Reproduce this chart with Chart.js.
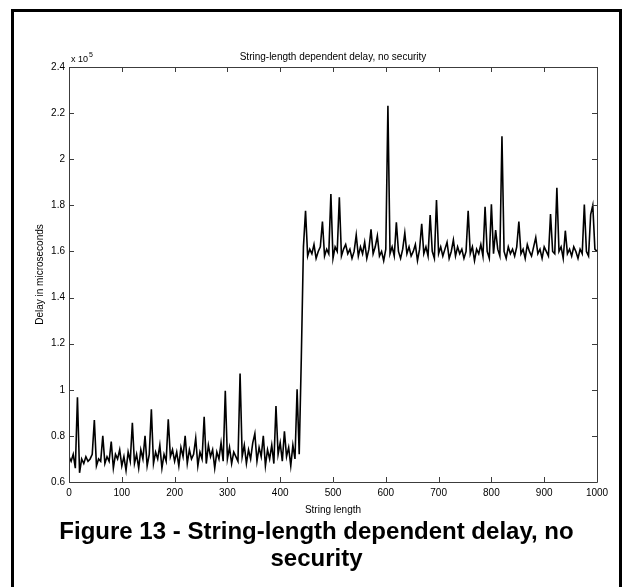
<!DOCTYPE html>
<html>
<head>
<meta charset="utf-8">
<script src="https://cdn.jsdelivr.net/npm/chart.js@4.4.0/dist/chart.umd.min.js"></script>
<style>
  html, body { margin: 0; padding: 0; background: #fff; overflow: hidden; width: 624px; height: 587px; }
  #frame { position: absolute; left: 11px; top: 9px; width: 605px; height: 600px; border: 3px solid #000; }
  #wrap { position: absolute; left: 0; top: 0; width: 624px; height: 587px; }
  #caption {
    position: absolute; left: 11px; width: 611px; top: 517px;
    text-align: center; font: bold 24px "Liberation Sans", Arial, sans-serif; line-height: 27px; color: #000;
  }
</style>
</head>
<body>
<div id="frame"></div>
<div id="wrap"><canvas id="delayChart" width="624" height="587"></canvas></div>
<div id="caption">Figure 13 - String-length dependent delay, no<br>security</div>
<script>
// DATA (one sample every 4 characters)
const STEP = 4;
const delay = [
  // 0 - 436
  0.71, 0.69, 0.72, 0.66, 0.967, 0.64, 0.70, 0.68, 0.71, 0.69,
  0.70, 0.72, 0.869, 0.67, 0.70, 0.69, 0.80, 0.68, 0.71, 0.69,
  0.775, 0.66, 0.72, 0.70, 0.74, 0.67, 0.71, 0.65, 0.73, 0.69,
  0.857, 0.68, 0.72, 0.66, 0.74, 0.70, 0.80, 0.67, 0.72, 0.915,
  0.68, 0.73, 0.70, 0.76, 0.66, 0.72, 0.69, 0.872, 0.71, 0.74,
  0.69, 0.73, 0.67, 0.75, 0.71, 0.80, 0.68, 0.74, 0.70, 0.72,
  0.79, 0.67, 0.73, 0.70, 0.883, 0.68, 0.76, 0.71, 0.74, 0.66,
  0.73, 0.70, 0.77, 0.69, 0.996, 0.70, 0.75, 0.68, 0.73, 0.71,
  0.69, 1.071, 0.71, 0.76, 0.68, 0.74, 0.70, 0.77, 0.81, 0.69,
  0.75, 0.71, 0.80, 0.67, 0.74, 0.70, 0.76, 0.68, 0.93, 0.72,
  0.77, 0.69, 0.82, 0.71, 0.75, 0.67, 0.76, 0.70, 1.002, 0.72,
  // step at 440
  1.14,
  // 444 - 1000
  1.62, 1.776, 1.58, 1.61, 1.59, 1.63, 1.57, 1.60, 1.62, 1.73,
  1.58, 1.61, 1.59, 1.849, 1.57, 1.62, 1.60, 1.835, 1.58, 1.61,
  1.63, 1.59, 1.61, 1.57, 1.60, 1.671, 1.58, 1.62, 1.59, 1.64,
  1.57, 1.61, 1.696, 1.59, 1.62, 1.667, 1.58, 1.60, 1.56, 1.61,
  2.232, 1.59, 1.62, 1.58, 1.726, 1.60, 1.57, 1.61, 1.68, 1.59,
  1.62, 1.58, 1.60, 1.63, 1.56, 1.61, 1.72, 1.59, 1.62, 1.58,
  1.758, 1.60, 1.57, 1.823, 1.59, 1.62, 1.58, 1.61, 1.64, 1.57,
  1.60, 1.65, 1.58, 1.62, 1.59, 1.61, 1.57, 1.60, 1.776, 1.59,
  1.62, 1.56, 1.61, 1.59, 1.63, 1.58, 1.794, 1.60, 1.57, 1.805,
  1.59, 1.693, 1.61, 1.58, 2.10, 1.60, 1.57, 1.62, 1.59, 1.61,
  1.58, 1.62, 1.73, 1.59, 1.61, 1.57, 1.63, 1.60, 1.58, 1.62,
  1.66, 1.59, 1.61, 1.57, 1.62, 1.60, 1.58, 1.762, 1.60, 1.59,
  1.876, 1.60, 1.62, 1.57, 1.69, 1.59, 1.61, 1.58, 1.62, 1.60,
  1.57, 1.61, 1.59, 1.804, 1.60, 1.58, 1.76, 1.80, 1.61, 1.60
];
const stringLength = delay.map((_, i) => i * STEP);

const xTickValues = [0, 100, 200, 300, 400, 500, 600, 700, 800, 900, 1000];
const xTickLabels = ["0", "100", "200", "300", "400", "500", "600", "700", "800", "900", "1000"];
const yTickValues = [0.6, 0.8, 1.0, 1.2, 1.4, 1.6, 1.8, 2.0, 2.2, 2.4];
const yTickLabels = ["0.6", "0.8", "1", "1.2", "1.4", "1.6", "1.8", "2", "2.2", "2.4"];

const FONT = '"Liberation Sans", Arial, Helvetica, sans-serif';

// box round the plot, inward ticks on all four sides, exponent label
const matlabFrame = {
  id: "matlabFrame",
  afterDraw(chart) {
    const { ctx, chartArea: a, scales: { x, y } } = chart;
    ctx.save();
    ctx.strokeStyle = "#3c3c3c";
    ctx.lineWidth = 1;
    ctx.beginPath();
    ctx.rect(a.left + 0.5, a.top + 0.5, a.right - a.left, a.bottom - a.top);
    x.ticks.forEach(t => {
      const px = Math.round(x.getPixelForValue(t.value)) + 0.5;
      ctx.moveTo(px, a.bottom); ctx.lineTo(px, a.bottom - 5);
      ctx.moveTo(px, a.top); ctx.lineTo(px, a.top + 5);
    });
    y.ticks.forEach(t => {
      const py = Math.round(y.getPixelForValue(t.value)) + 0.5;
      ctx.moveTo(a.left, py); ctx.lineTo(a.left + 5, py);
      ctx.moveTo(a.right, py); ctx.lineTo(a.right - 5, py);
    });
    ctx.stroke();

    ctx.fillStyle = "#000";
    ctx.textBaseline = "alphabetic";
    ctx.font = "9px " + FONT;
    ctx.fillText("x 10", a.left + 2, a.top - 5);
    const w = ctx.measureText("x 10").width;
    ctx.font = "7px " + FONT;
    ctx.fillText("5", a.left + 3 + w, a.top - 10);
    ctx.restore();
  }
};

const ctx = document.getElementById("delayChart").getContext("2d");
new Chart(ctx, {
  type: "line",
  data: {
    datasets: [{
      data: delay.map((v, i) => ({ x: stringLength[i], y: v })),
      borderColor: "#000",
      borderWidth: 1.6,
      tension: 0,
      pointRadius: 0,
      fill: false
    }]
  },
  options: {
    responsive: false,
    animation: false,
    layout: { padding: { left: 0, right: 27, top: 0, bottom: 71 } },
    plugins: {
      legend: { display: false },
      tooltip: { enabled: false },
      title: {
        display: true,
        fullSize: false,
        text: "String-length dependent delay, no security",
        color: "#000",
        font: { family: FONT, size: 10, weight: "normal", lineHeight: 1.2 },
        padding: { top: 51, bottom: 4 }
      }
    },
    scales: {
      x: {
        type: "linear",
        min: 0,
        max: 1000,
        afterBuildTicks: s => { s.ticks = xTickValues.map(value => ({ value })); },
        afterFit: s => { s.height = 34; },
        grid: { display: false, drawTicks: false },
        border: { display: false },
        ticks: {
          autoSkip: false,
          maxRotation: 0,
          padding: 5,
          color: "#000",
          font: { family: FONT, size: 10 },
          callback: (v, i) => xTickLabels[i]
        },
        title: {
          display: true,
          text: "String length",
          color: "#000",
          font: { family: FONT, size: 10, lineHeight: 1.2 },
          padding: { top: 0, bottom: 0 }
        }
      },
      y: {
        min: 0.6,
        max: 2.4,
        afterBuildTicks: s => { s.ticks = yTickValues.map(value => ({ value })); },
        afterFit: s => { s.width = 69; },
        grid: { display: false, drawTicks: false },
        border: { display: false },
        ticks: {
          autoSkip: false,
          padding: 4,
          color: "#000",
          font: { family: FONT, size: 10 },
          callback: (v, i) => yTickLabels[i]
        },
        title: {
          display: true,
          text: "Delay in microseconds",
          color: "#000",
          font: { family: FONT, size: 10, lineHeight: 1.2 },
          padding: { top: 34, bottom: 0 }
        }
      }
    }
  },
  plugins: [matlabFrame]
});
</script>
</body>
</html>
